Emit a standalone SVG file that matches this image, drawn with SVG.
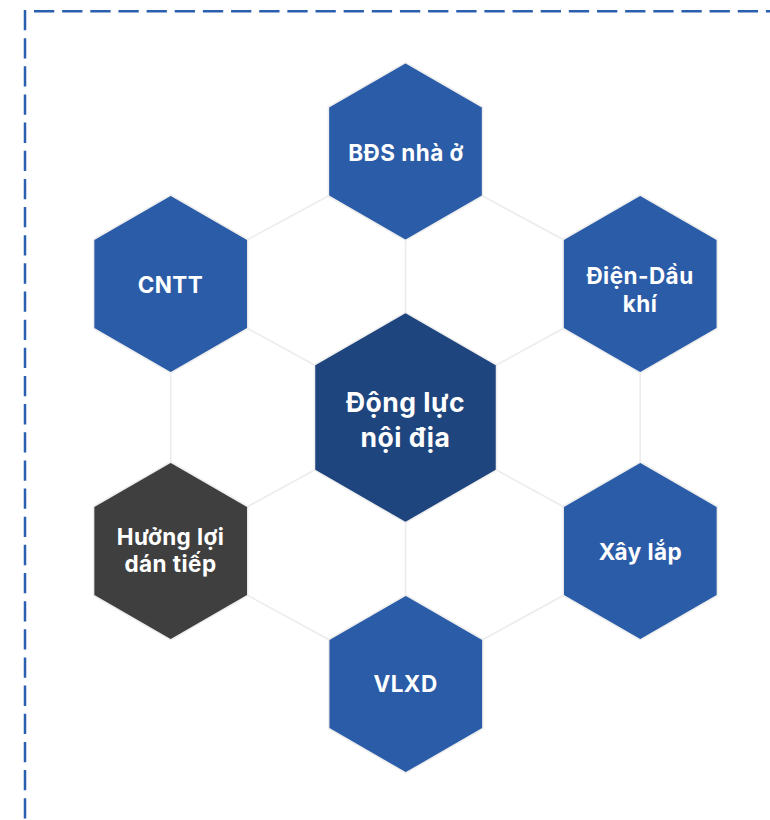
<svg xmlns="http://www.w3.org/2000/svg" width="770" height="820" viewBox="0 0 770 820">
<style>
.frame{stroke:#2b5fb0;stroke-width:2.5;stroke-dasharray:20.3 7.85;fill:none}
.link{stroke:#ececec;stroke-width:1.6;fill:none}
.hex{stroke:#eeeeee;stroke-width:1.5}
.blue{fill:#2a5ca8}
.core{fill:#1f457e}
.dark{fill:#3f3f3f}
.lbl{font-family:Inter,"Open Sans","Liberation Sans",sans-serif;font-weight:700;font-size:22.5px;letter-spacing:0.45px;fill:#ffffff;text-anchor:middle}
.big{font-size:26.5px;letter-spacing:0.5px}
</style>
<rect width="770" height="820" fill="#ffffff"/>
<line class="frame" x1="34" y1="11.2" x2="780" y2="11.2"/>
<line class="frame" x1="25" y1="10" x2="25" y2="830"/>
<g id="connectors">
<line class="link" x1="328.4" y1="196" x2="247.8" y2="239.5"/>
<line class="link" x1="482.6" y1="196" x2="563.1" y2="239.5"/>
<line class="link" x1="405.5" y1="240.5" x2="405.5" y2="312.3"/>
<line class="link" x1="247.8" y1="328.5" x2="314.5" y2="365"/>
<line class="link" x1="563.1" y1="328.5" x2="496.5" y2="365"/>
<line class="link" x1="170.7" y1="373" x2="170.7" y2="462"/>
<line class="link" x1="640.2" y1="373" x2="640.2" y2="462"/>
<line class="link" x1="314.5" y1="470" x2="247.8" y2="506.5"/>
<line class="link" x1="496.5" y1="470" x2="563.2" y2="506.5"/>
<line class="link" x1="405.5" y1="522.7" x2="405.5" y2="595"/>
<line class="link" x1="247.8" y1="595.5" x2="328.7" y2="639.5"/>
<line class="link" x1="563.2" y1="595.5" x2="482.9" y2="639.5"/>
</g>
<g id="center">
<polygon class="hex core" points="405.5,312.3 496.5,364.9 496.5,470.1 405.5,522.7 314.5,470.1 314.5,364.9"/>
<text class="lbl big" x="405.5" y="411.7">Động lực</text>
<text class="lbl big" x="405.5" y="446.7">nội địa</text>
</g>
<g id="bds">
<polygon class="hex blue" points="405.5,62.5 482.6,107 482.6,196 405.5,240.5 328.4,196 328.4,107"/>
<text class="lbl" x="406" y="161">BĐS nhà ở</text>
</g>
<g id="cntt">
<polygon class="hex blue" points="170.7,195 247.8,239.5 247.8,328.5 170.7,373 93.6,328.5 93.6,239.5"/>
<text class="lbl" x="170.5" y="293.3">CNTT</text>
</g>
<g id="dien">
<polygon class="hex blue" points="640.2,195 717.3,239.5 717.3,328.5 640.2,373 563.1,328.5 563.1,239.5"/>
<text class="lbl" x="640" y="284">Điện-Dầu</text>
<text class="lbl" x="640" y="311.7">khí</text>
</g>
<g id="huong">
<polygon class="hex dark" points="170.7,462 247.8,506.5 247.8,595.5 170.7,640 93.6,595.5 93.6,506.5"/>
<text class="lbl" x="170.5" y="545">Hưởng lợi</text>
<text class="lbl" x="170.5" y="572.3">dán tiếp</text>
</g>
<g id="xaylap">
<polygon class="hex blue" points="640.3,462 717.4,506.5 717.4,595.5 640.3,640 563.2,595.5 563.2,506.5"/>
<text class="lbl" x="640.5" y="560">Xây lắp</text>
</g>
<g id="vlxd">
<polygon class="hex blue" points="405.8,595 482.9,639.5 482.9,728.5 405.8,773 328.7,728.5 328.7,639.5"/>
<text class="lbl" x="405.5" y="691.7">VLXD</text>
</g>
</svg>
